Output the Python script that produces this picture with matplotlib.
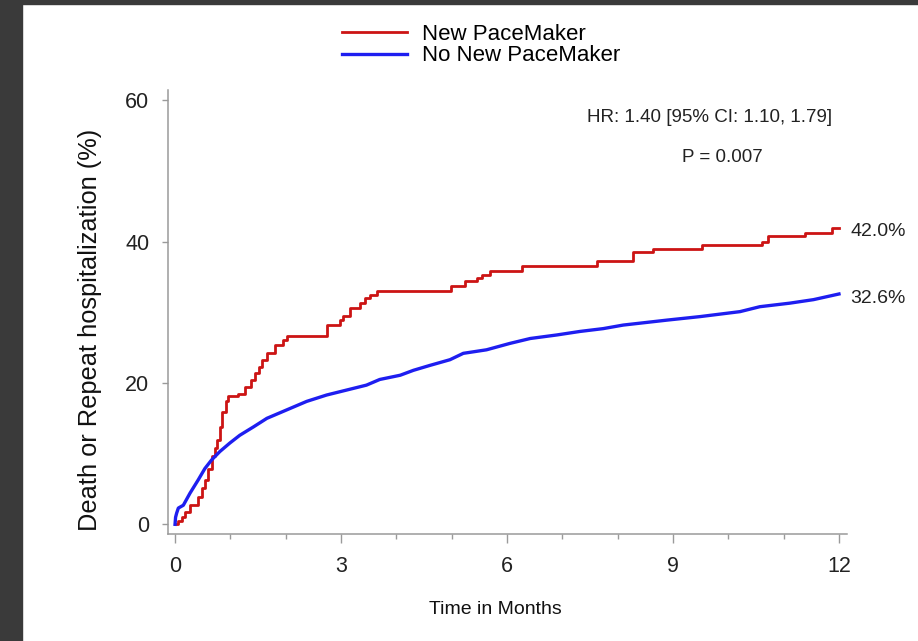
import matplotlib
matplotlib.use("Agg")
from matplotlib import pyplot as plt
from matplotlib.patches import Rectangle

plt.rcParams['font.family'] = ['Liberation Sans', 'DejaVu Sans']

# cumulative incidence (%), time in months
red_t = [0.00, 0.06, 0.12, 0.18, 0.27, 0.42, 0.48, 0.54, 0.60, 0.66, 0.72, 0.76, 0.81, 0.84,
         0.92, 0.96, 1.14, 1.26, 1.38, 1.45, 1.51, 1.57, 1.66, 1.81, 1.96, 2.02, 2.74, 2.98,
         3.04, 3.16, 3.34, 3.43, 3.52, 3.65, 4.98, 5.24, 5.45, 5.54, 5.69, 6.27, 7.63, 8.28,
         8.64, 9.52, 10.60, 10.72, 11.39, 11.87, 12.00]
red_y = [0.0, 0.4, 1.1, 1.8, 2.7, 3.9, 5.1, 6.3, 7.9, 9.6, 10.8, 11.9, 13.8, 15.9,
         17.4, 18.1, 18.5, 19.5, 20.4, 21.4, 22.3, 23.3, 24.2, 25.4, 26.1, 26.7, 28.2, 28.9,
         29.5, 30.6, 31.3, 32.0, 32.5, 33.0, 33.7, 34.4, 34.8, 35.3, 35.9, 36.6, 37.2, 38.5,
         39.0, 39.6, 40.0, 40.8, 41.3, 42.0, 42.0]

blue_t = [0.00, 0.01, 0.03, 0.06, 0.15, 0.27, 0.42, 0.54, 0.66, 0.81, 0.99, 1.17, 1.42, 1.66,
          2.02, 2.38, 2.74, 3.10, 3.46, 3.70, 4.07, 4.31, 4.61, 4.97, 5.21, 5.63, 6.05, 6.42,
          6.90, 7.32, 7.74, 8.10, 8.89, 9.49, 10.21, 10.57, 11.11, 11.54, 12.00]
blue_y = [0.0, 1.0, 1.6, 2.3, 2.7, 4.4, 6.3, 7.9, 9.1, 10.3, 11.5, 12.6, 13.8, 15.0,
          16.2, 17.4, 18.3, 19.0, 19.7, 20.5, 21.1, 21.8, 22.5, 23.3, 24.2, 24.7, 25.6, 26.3,
          26.8, 27.3, 27.7, 28.2, 28.9, 29.4, 30.1, 30.8, 31.3, 31.8, 32.6]

labels = ["New PaceMaker", "No New PaceMaker"]
end_labels = ["42.0%", "32.6%"]
hr_text = "HR: 1.40 [95% CI: 1.10, 1.79]"
p_text = "P = 0.007"

RED = '#cc1414'
BLUE = '#1e1ef0'
GREY = '#9a9a9a'

fig = plt.figure(figsize=(9.18, 6.41), dpi=100)
# dark frame strips on the screenshot
fig.patches.append(Rectangle((0, 0), 22 / 918, 1, transform=fig.transFigure, color='#3a3a3a', zorder=0))
fig.patches.append(Rectangle((0, 1 - 4 / 641), 1, 4 / 641, transform=fig.transFigure, color='#3a3a3a', zorder=0))

ax = fig.add_axes([168 / 918, 1 - 534 / 641, 679 / 918, 444 / 641])
l1, = ax.plot(red_t, red_y, color=RED, lw=2.0, drawstyle='steps-post')
l2, = ax.plot(blue_t, blue_y, color=BLUE, lw=2.4)

ax.set_xlim(-0.127, 12.145)
ax.set_ylim(-1.37, 61.47)
ax.spines['top'].set_visible(False)
ax.spines['right'].set_visible(False)
for s in ['left', 'bottom']:
    ax.spines[s].set_color(GREY)
    ax.spines[s].set_linewidth(1.1)

ax.set_xticks([0, 3, 6, 9, 12])
ax.set_xticks([1, 2, 4, 5, 7, 8, 10, 11], minor=True)
ax.set_yticks([0, 20, 40, 60])
ax.tick_params(axis='x', which='major', length=6.5, width=1.0, color=GREY, labelsize=15.5,
               labelcolor='#222222', pad=9)
ax.tick_params(axis='x', which='minor', length=3.5, width=1.0, color=GREY)
ax.tick_params(axis='y', which='major', length=4.5, width=1.0, color=GREY, labelsize=15.5,
               labelcolor='#222222', pad=9)

ax.set_xlabel("Time in Months", fontsize=14, color='#111111')
ax.xaxis.label.set_va('center')
ax.xaxis.set_label_coords(0.482, -0.171)
ax.set_ylabel("Death or Repeat hospitalization (%)", fontsize=18.3, color='#111111')
ax.yaxis.label.set_va('center')
ax.yaxis.set_label_coords(-0.115, 0.459)

ax.text(0.798, 0.937, hr_text, transform=ax.transAxes, ha='center', va='center',
        fontsize=13.5, color='#222222')
ax.text(0.816, 0.849, p_text, transform=ax.transAxes, ha='center', va='center',
        fontsize=13.5, color='#222222')

ax.annotate(end_labels[0], xy=(red_t[-1], red_y[-1]), xytext=(8, -3), textcoords='offset points',
            ha='left', va='center', fontsize=14, color='#222222', annotation_clip=False)
ax.annotate(end_labels[1], xy=(blue_t[-1], blue_y[-1]), xytext=(8, -3), textcoords='offset points',
            ha='left', va='center', fontsize=14, color='#222222', annotation_clip=False)

fig.legend([l1, l2], labels, loc='upper left', bbox_to_anchor=(342 / 918, 1 - 24 / 641),
           frameon=False, fontsize=16, borderpad=0, borderaxespad=0, handlelength=2.93,
           handletextpad=0.68, labelspacing=0.02)

plt.savefig("out.png", dpi=100)
